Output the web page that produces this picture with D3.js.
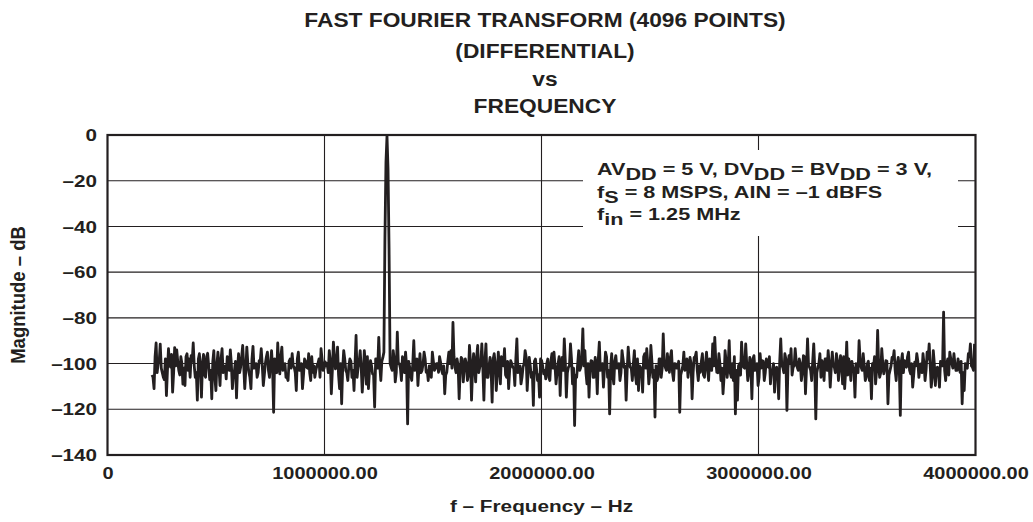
<!DOCTYPE html>
<html>
<head>
<meta charset="utf-8">
<script src="https://cdn.jsdelivr.net/npm/d3@7"></script>
<style>
  html, body { margin: 0; padding: 0; background: #fff; }
  svg { display: block; }
  text { font-family: "Liberation Sans", Arial, Helvetica, sans-serif; font-weight: bold; fill: #231f20; }
</style>
</head>
<body>
<svg id="chart" width="1033" height="522"></svg>
<script>
// ---------------- data ----------------
const titleLines = ["FAST FOURIER TRANSFORM (4096 POINTS)", "(DIFFERENTIAL)", "vs", "FREQUENCY"];
const xLabel = "f \u2013 Frequency \u2013 Hz";
const yLabel = "Magnitude \u2013 dB";
const xTickValues = [0, 1000000, 2000000, 3000000, 4000000];
const xTickLabels = ["0", "1000000.00", "2000000.00", "3000000.00", "4000000.00"];
const yTickValues = [0, -20, -40, -60, -80, -100, -120, -140];
const yTickLabels = ["0", "\u201320", "\u201340", "\u201360", "\u201380", "\u2013100", "\u2013120", "\u2013140"];

// FFT bins shown (Hz): first bin and spacing of the plotted samples
const freqStart = 205000;
const freqStep = 4750;

// magnitude (dB) at the even samples (peaks / dips)
const magnitudeEven = [
  -105, -111, -91, -100, -91.5, -104, -107, -114, -93.5, -101.5,
  -112.5, -93, -94, -103, -97, -109, -109.6, -95.7, -98, -96.5,
  -91, -106, -116, -95.7, -114.7, -96, -106, -95.5, -107, -115.4,
  -94.3, -111.8, -95, -109.6, -93.5, -101.6, -106.7, -98.7, -94, -111,
  -103, -115, -95.7, -101.6, -92.1, -111, -92.8, -103.8, -111, -92.5,
  -101.6, -106, -98.7, -93.5, -109.6, -100, -95, -106, -94.3, -121.3,
  -101.6, -91, -104.5, -92.8, -101.6, -106, -107.4, -98, -95.7, -101.6,
  -111.8, -95, -103, -111, -98, -101.6, -95.7, -107.4, -103.8, -106,
  -100.9, -98, -93.5, -103, -99.3, -100, -94.3, -113.2, -90.6, -102.3,
  -92.8, -111, -117.6, -94.3, -103, -107.4, -98, -106, -111.8, -87.7,
  -101.6, -94.3, -112.5, -94.3, -109, -111, -98.7, -104.5, -119, -98,
  -88.5, -107.4, -97.3, -45, -0.5, -50, -101.6, -94.3, -108, -86.3,
  -100, -107.4, -98, -95, -126.4, -101.6, -107.4, -90, -98.7, -109.6,
  -95.7, -103, -95, -103.8, -107.4, -101.6, -95, -103,
  -100, -103.8, -99.4, -104.5, -113.2, -103.8, -95, -94.3, -82, -101.6,
  -98, -115.4, -97.3, -108, -98, -107.4, -92.1, -116, -95.7, -108,
  -92.1, -101.6, -91.4, -116, -91.4, -106, -97.3, -116.9, -95.7, -111.8,
  -95, -108.9, -98, -93.5, -106, -111, -98.7, -101.6, -109.6, -89.2,
  -101.6, -108.9, -101.6, -94.3, -111.8, -97.3, -106, -118.3, -98, -107.4,
  -114.7, -98.7, -104.5, -106.7, -98, -107.4, -95.7, -95, -108.9, -100,
  -114, -97.3, -89.2, -114.7, -101.6, -91.4, -108.9, -127.1, -106, -94.3,
  -101.6, -84.8,
  -94.3, -108.9, -114.7, -98.7, -106, -97.3, -113.2, -90.6, -101.6, -110.3,
  -95, -106, -122, -95.7, -108.9, -96.5, -101.6, -107.4, -94.3, -101.6,
  -116, -92.8, -101.6, -107.4, -94.3, -108.9, -111.8, -101.6, -112.5, -95.7,
  -93.5, -108.9, -92.1, -106, -123.4, -107.4, -98, -106, -87, -101.6,
  -95.7, -103.8, -94.3, -107.4, -100.1, -101.6, -121.3, -103, -95, -101.6,
  -106, -97.3, -115.4, -97.3, -95, -107.4, -103.8, -95.7, -106, -95,
  -107.4, -100.1, -91.4, -88.5, -103.8, -95.7, -107.4, -113.2, -94.3, -106,
  -90, -106, -107.4, -122, -116, -100.1, -90.6, -101.6, -91.4, -107.4,
  -97.3, -115.4, -96.5, -101.6, -109.6, -95.7, -98.7, -107.4, -98, -101.6,
  -108.9, -103, -112.5, -101.6, -115.4, -89.2, -101.6, -95.7, -120.5, -96.5,
  -93.5, -101.6, -93.5, -101.6, -98, -107.4, -96.5, -113.2, -89.2, -101.6,
  -107.4, -91.4, -124.2, -101.6, -95.7, -98.7, -107.4, -98, -94.3, -110.3,
  -95, -101.6, -95.7, -107.4, -96.5, -108.9, -111, -90.6, -98, -107.4,
  -101.6, -114.7, -101.6, -90, -101.6, -95.7, -107.4, -100.1, -107.4, -115.4,
  -101.6,
  -108.9, -85.5, -106, -93.5, -104.5, -98.7, -117.6, -103, -97.3, -94.3,
  -107.4, -97.3, -122.7, -95.7, -98.7, -101.6, -95, -104.5, -110.3, -99.4,
  -95.7, -106, -100.1, -95.7, -107.4, -95, -91.4, -110.3, -94.3, -109.6,
  -101.6, -110.3, -100.1, -77.5, -107.4, -98, -95, -100.1, -95.7, -103,
  -98, -103.8, -117.6, -111.8, -101.6, -95.7, -91.4, -101.6, -91.4
];

// magnitude (dB) at the odd samples in between (body of the noise band)
const magnitudeOdd = [
  -106, -97, -104, -99, -102, -106, -98, -103, -100, -96,
  -104, -101, -99, -105, -100, -102, -97, -103, -106, -99,
  -101, -104, -98, -102, -100, -105, -97, -101, -103, -99,
  -106, -100, -102, -98, -104, -101, -97, -103, -100, -105,
  -99, -102, -104, -97, -101, -103, -100, -106, -98, -102,
  -100, -104, -99, -101, -105, -97, -103, -100, -102, -98,
  -104, -101, -97, -103, -100, -106, -99, -102, -101, -104,
  -98, -103, -100, -105, -99, -102, -104, -97, -101, -103,
  -100, -106, -98, -102, -101, -104, -99, -103, -97, -101,
  -105, -100, -102, -98, -104, -101, -99, -103, -100, -106,
  -99, -102, -104, -100, -97, -103, -101, -105, -98, -102,
  -101, -99, -95, -12, -15, -100, -103, -98, -104, -100,
  -102, -97, -104, -101, -99, -105, -100, -103, -98, -102,
  -104, -100, -98, -103, -101, -106, -99, -102, -100, -97,
  -103, -101, -105, -99, -100, -102, -97, -104, -101, -103,
  -98, -102, -100, -105, -99, -103, -101, -97, -104, -100,
  -102, -99, -106, -101, -103, -98, -100, -104, -102, -97,
  -101, -105, -99, -103, -100, -102, -98, -104, -101, -106,
  -100, -97, -103, -101, -104, -99, -102, -105, -98, -101,
  -103, -100, -106, -99, -102, -101, -104, -97, -100, -103,
  -99, -104, -101, -98, -102, -105, -100, -103, -97, -101,
  -104, -100, -102, -99, -106, -101, -98, -103, -100, -102,
  -97, -103, -101, -105, -99, -102, -100, -104, -98, -101,
  -103, -99, -102, -100, -105, -98, -101, -104, -97, -102,
  -100, -104, -99, -103, -101, -106, -98, -102, -100, -103,
  -101, -97, -104, -100, -102, -99, -105, -101, -103, -98,
  -102, -100, -104, -97, -103, -101, -99, -105, -100, -102,
  -98, -103, -101, -99, -104, -100, -102, -106, -99, -101,
  -104, -100, -97, -103, -101, -105, -99, -102, -100, -104,
  -101, -98, -103, -100, -106, -102, -99, -104, -101, -97,
  -103, -100, -102, -105, -99, -101, -104, -98, -102, -100,
  -105, -101, -99, -103, -100, -104, -97, -102, -101, -103,
  -99, -102, -104, -100, -106, -101, -98, -103, -100, -102,
  -101, -104, -99, -102, -100, -97, -103, -105, -101, -99,
  -102, -100, -104, -98, -103, -101, -106, -99, -102, -100,
  -97, -103, -101, -104, -100, -102, -99, -105, -101, -98,
  -103, -100, -102, -99, -104, -101, -97, -103, -100, -105,
  -101, -99, -102, -104, -100, -103, -98, -101, -106, -100,
  -102, -104, -99, -101, -103, -100, -105, -98, -102, -100,
  -103, -101, -99, -104, -100, -102, -97, -101, -103
];

const noteLines = [
  [["AV", 0], ["DD", 1], [" = 5 V, DV", 0], ["DD", 1], [" = BV", 0], ["DD", 1], [" = 3 V,", 0]],
  [["f", 0], ["S", 1], [" = 8 MSPS, AIN = \u20131 dBFS", 0]],
  [["f", 0], ["in", 1], [" = 1.25 MHz", 0]]
];

// ---------------- drawing ----------------
(function () {
const INK = "#231f20";
const SX = 1.25; // horizontal glyph stretch of the original artwork
const svg = d3.select("#chart");

const pL = 107.5, pR = 975.5, pT = 135, pB = 455;
const x = d3.scaleLinear().domain([0, 4000000]).range([pL, pR]);
const y = d3.scaleLinear().domain([-140, 0]).range([pB, pT]);

// interleave even / odd samples into one trace
const points = [];
magnitudeEven.forEach((m, i) => {
  points.push({ f: freqStart + (2 * i) * freqStep, m });
  if (i < magnitudeOdd.length) points.push({ f: freqStart + (2 * i + 1) * freqStep, m: magnitudeOdd[i] });
});

// grid
const grid = svg.append("g");
grid.selectAll("line.v").data(xTickValues.slice(1, -1)).join("line")
  .attr("x1", d => x(d)).attr("x2", d => x(d))
  .attr("y1", pT).attr("y2", pB)
  .attr("stroke", INK).attr("stroke-width", 1.1);
grid.selectAll("line.h").data(yTickValues.slice(1, -1)).join("line")
  .attr("x1", pL).attr("x2", pR)
  .attr("y1", d => y(d)).attr("y2", d => y(d))
  .attr("stroke", INK).attr("stroke-width", 1.1);

// annotation box (white background hides grid)
svg.append("rect").attr("x", 583).attr("y", 150).attr("width", 375).attr("height", 86).attr("fill", "#fff");

// trace
const line = d3.line().x(d => x(d.f)).y(d => y(d.m));
svg.append("path").datum(points)
  .attr("d", line)
  .attr("fill", "none")
  .attr("stroke", INK)
  .attr("stroke-width", 2.8)
  .attr("stroke-linejoin", "round");

// frame
svg.append("rect").attr("x", pL).attr("y", pT)
  .attr("width", pR - pL).attr("height", pB - pT)
  .attr("fill", "none").attr("stroke", INK).attr("stroke-width", 2.2);

// axes (labels only)
const yAxis = svg.append("g").attr("transform", `translate(${pL},0)`)
  .call(d3.axisLeft(y).tickValues(yTickValues).tickSize(0).tickPadding(10)
    .tickFormat((d, i) => yTickLabels[i]));
yAxis.select(".domain").remove();
yAxis.selectAll("text")
  .attr("x", -10.5 / SX).attr("dy", "0.34em")
  .attr("transform", `scale(${SX},1)`)
  .style("font-size", "16.5px").attr("fill", INK);

const xAxis = svg.append("g").attr("transform", `translate(0,${pB})`)
  .call(d3.axisBottom(x).tickValues(xTickValues).tickSize(0).tickPadding(0)
    .tickFormat((d, i) => xTickLabels[i]));
xAxis.select(".domain").remove();
xAxis.selectAll("text")
  .attr("y", 24).attr("dy", 0).attr("x", 0)
  .attr("transform", `scale(${SX * 0.97},1)`)
  .style("font-size", "16.5px").attr("fill", INK);
yAxis.attr("font-family", null).attr("font-size", null);
xAxis.attr("font-family", null).attr("font-size", null);

// stretched text helper
function sText(px, py, str, size, anchor, sx) {
  return svg.append("g").attr("transform", `translate(${px},${py}) scale(${sx},1)`)
    .append("text").attr("text-anchor", anchor).style("font-size", size + "px").text(str);
}

// title
const titleY = [27, 57.5, 86, 113.3];
titleLines.forEach((t, i) => sText(545, titleY[i], t, 20.5, "middle", 1.11));

// axis titles
sText(541.5, 512, xLabel, 17, "middle", 1.22);
svg.append("g").attr("transform", `translate(25,295) scale(1.13,1) rotate(-90)`)
  .append("text").attr("text-anchor", "middle").style("font-size", "18.5px").text(yLabel);

// annotation text
const noteY = [175, 197.5, 220];
noteLines.forEach((parts, li) => {
  const t = svg.append("g").attr("transform", `translate(597,${noteY[li]}) scale(${SX},1)`)
    .append("text").style("font-size", "17.3px");
  let shifted = false;
  parts.forEach(([s, sub]) => {
    const sp = t.append("tspan").text(s);
    if (sub && !shifted) { sp.attr("dy", 5); shifted = true; }
    else if (!sub && shifted) { sp.attr("dy", -5); shifted = false; }
  });
});
})();
</script>
</body>
</html>
